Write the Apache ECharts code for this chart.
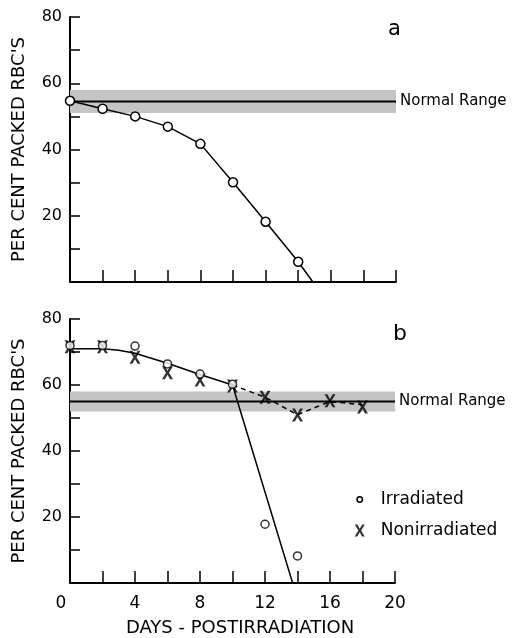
<!DOCTYPE html>
<html>
<head>
<meta charset="utf-8">
<script src="https://cdn.jsdelivr.net/npm/echarts@6/dist/echarts.min.js"></script>
<style>html,body{margin:0;padding:0;background:#fff;}#c{width:512px;height:638px;}</style>
</head>
<body>
<div id="c"></div>
<script>
// ---- data ----
const days = [0, 2, 4, 6, 8, 10, 12, 14];
const topIrradiated = [54.7, 52.3, 50, 46.9, 41.7, 30.1, 18.2, 6.1];
const topLineEnd = [14.9, 0];
const topNormalBand = [51, 58];
const topNormalLine = 54.5;

const botIrradiated = [72, 72, 71.8, 66.4, 63.3, 60.2, 17.8, 8.2];
const botFitDays = [0, 2, 3, 4, 6, 8, 10, 13.7];
const botFitValues = [71, 71, 70.5, 69.6, 66.6, 63.2, 60, 0];
const nonDays = [0, 2, 4, 6, 8, 10, 12, 14, 16, 18];
const nonIrradiated = [71.6, 71.6, 68.4, 63.7, 61.5, 59.7, 56.3, 50.9, 55.2, 53.3];
const nonTrendDays = [10, 12, 14, 16, 18];
const nonTrendValues = [60, 56.3, 51, 55, 54];
const botNormalBand = [52, 58];
const botNormalLine = 55;

const xTickLabels = [0, 4, 8, 12, 16, 20];
const yTickLabels = [20, 40, 60, 80];

// ---- chart ----
const FONT = 'DejaVu Sans';
const X_PATH = 'path://M0,0H2.6L5,4.2L7.4,0H10L6.4,6L10,12H7.4L5,7.8L2.6,12H0L3.6,6Z';
const LEG_CIRCLE = 'path://M0,0M12,12M8.7,6A2.7,2.7,0,1,1,3.3,6A2.7,2.7,0,1,1,8.7,6Z';

function pairs(xs, ys) { return xs.map((x, i) => [x, ys[i]]); }

function xAxis(gridIndex, showLabels) {
  return {
    type: 'value', gridIndex, min: 0, max: 20, interval: 2,
    axisLine: { lineStyle: { color: '#000', width: 2 } },
    axisTick: { show: true, inside: true, length: 12, lineStyle: { color: '#000', width: 1.5 } },
    splitLine: { show: false },
    axisLabel: {
      show: showLabels, margin: 12, color: '#000', fontFamily: FONT, fontSize: 17,
      formatter: v => (v === 0 ? '{z|0}' : (xTickLabels.indexOf(v) >= 0 ? String(v) : '')),
      rich: { z: { fontFamily: FONT, fontSize: 17, color: '#000', padding: [0, 18, 0, 0] } }
    },
    name: showLabels ? 'DAYS - POSTIRRADIATION' : '',
    nameLocation: 'middle', nameGap: 36,
    nameTextStyle: { color: '#000', fontFamily: FONT, fontSize: 18, padding: [0, 0, 0, 15] }
  };
}
function yAxis(gridIndex) {
  return {
    type: 'value', gridIndex, min: 0, max: 80, interval: 10,
    axisLine: { show: true, lineStyle: { color: '#000', width: 2 } },
    axisTick: { show: true, inside: true, length: 10, lineStyle: { color: '#000', width: 1.5 } },
    splitLine: { show: false },
    axisLabel: {
      margin: 8, color: '#000', fontFamily: FONT, fontSize: 16,
      formatter: v => (yTickLabels.indexOf(v) >= 0 ? String(v) : '')
    },
    name: "PER CENT PACKED RBC'S",
    nameLocation: 'middle', nameGap: 42, nameRotate: 90,
    nameTextStyle: { color: '#000', fontFamily: FONT, fontSize: 18 }
  };
}
function normalSeries(idx, band, level) {
  return {
    name: 'Normal Range ' + idx, type: 'line', xAxisIndex: idx, yAxisIndex: idx,
    data: [[0, level], [20, level]], symbol: 'none', silent: true, z: 1,
    lineStyle: { color: '#000', width: 2 },
    endLabel: { show: true, formatter: 'Normal Range', distance: 4, color: '#000',
      fontFamily: FONT, fontSize: 15, padding: [5, 0, 0, 0] },
    markArea: {
      silent: true,
      itemStyle: { color: '#c4c4c4' },
      data: [[{ coord: [0, band[1]] }, { coord: [20, band[0]] }]]
    }
  };
}

const chart = echarts.init(document.getElementById('c'), null, { renderer: 'canvas' });
chart.setOption({
  animation: false,
  backgroundColor: '#fff',
  textStyle: { fontFamily: FONT },
  title: [
    { text: 'a', left: 383, top: 14, textStyle: { fontSize: 21, fontWeight: 'normal', color: '#000', fontFamily: FONT } },
    { text: 'b', left: 388, top: 318, textStyle: { fontSize: 22, fontWeight: 'normal', color: '#000', fontFamily: FONT } }
  ],
  grid: [
    { left: 70, top: 17, width: 326, height: 265 },
    { left: 70, top: 319, width: 325, height: 264 }
  ],
  xAxis: [xAxis(0, false), xAxis(1, true)],
  yAxis: [yAxis(0), yAxis(1)],
  legend: {
    orient: 'vertical', left: 348, top: 486, itemWidth: 12, itemHeight: 12, itemGap: 14,
    selectedMode: false,
    textStyle: { color: '#000', fontFamily: FONT, fontSize: 17, padding: [0, 0, 0, 10] },
    data: [
      { name: 'Irradiated', icon: LEG_CIRCLE, itemStyle: { color: '#fff', borderColor: '#000', borderWidth: 1.5 } },
      { name: 'Nonirradiated', icon: X_PATH, itemStyle: { color: '#000', borderWidth: 0 } }
    ]
  },
  series: [
    normalSeries(0, topNormalBand, topNormalLine),
    {
      name: 'Irradiated', type: 'line', xAxisIndex: 0, yAxisIndex: 0, z: 5,
      data: pairs(days, topIrradiated).concat([{ value: topLineEnd, symbol: 'none' }]),
      symbol: 'circle', symbolSize: 9,
      itemStyle: { color: '#fff', borderColor: '#000', borderWidth: 1.5 },
      lineStyle: { color: '#000', width: 1.5 }
    },
    normalSeries(1, botNormalBand, botNormalLine),
    {
      name: 'Irradiated fit', type: 'line', xAxisIndex: 1, yAxisIndex: 1, z: 3,
      data: pairs(botFitDays, botFitValues), symbol: 'none',
      lineStyle: { color: '#000', width: 1.5 }
    },
    {
      name: 'Nonirradiated trend', type: 'line', xAxisIndex: 1, yAxisIndex: 1, z: 3,
      data: pairs(nonTrendDays, nonTrendValues), symbol: 'none',
      lineStyle: { color: '#000', width: 1.5, type: [5, 4] }
    },
    {
      name: 'Nonirradiated', type: 'scatter', xAxisIndex: 1, yAxisIndex: 1, z: 4,
      data: pairs(nonDays, nonIrradiated), symbol: X_PATH, symbolSize: [11, 13],
      itemStyle: { color: '#000' }
    },
    {
      name: 'Irradiated', type: 'scatter', xAxisIndex: 1, yAxisIndex: 1, z: 5,
      data: pairs(days, botIrradiated), symbol: 'circle', symbolSize: 8,
      itemStyle: { color: '#fff', borderColor: '#000', borderWidth: 1.5 }
    }
  ]
});
</script>
</body>
</html>
